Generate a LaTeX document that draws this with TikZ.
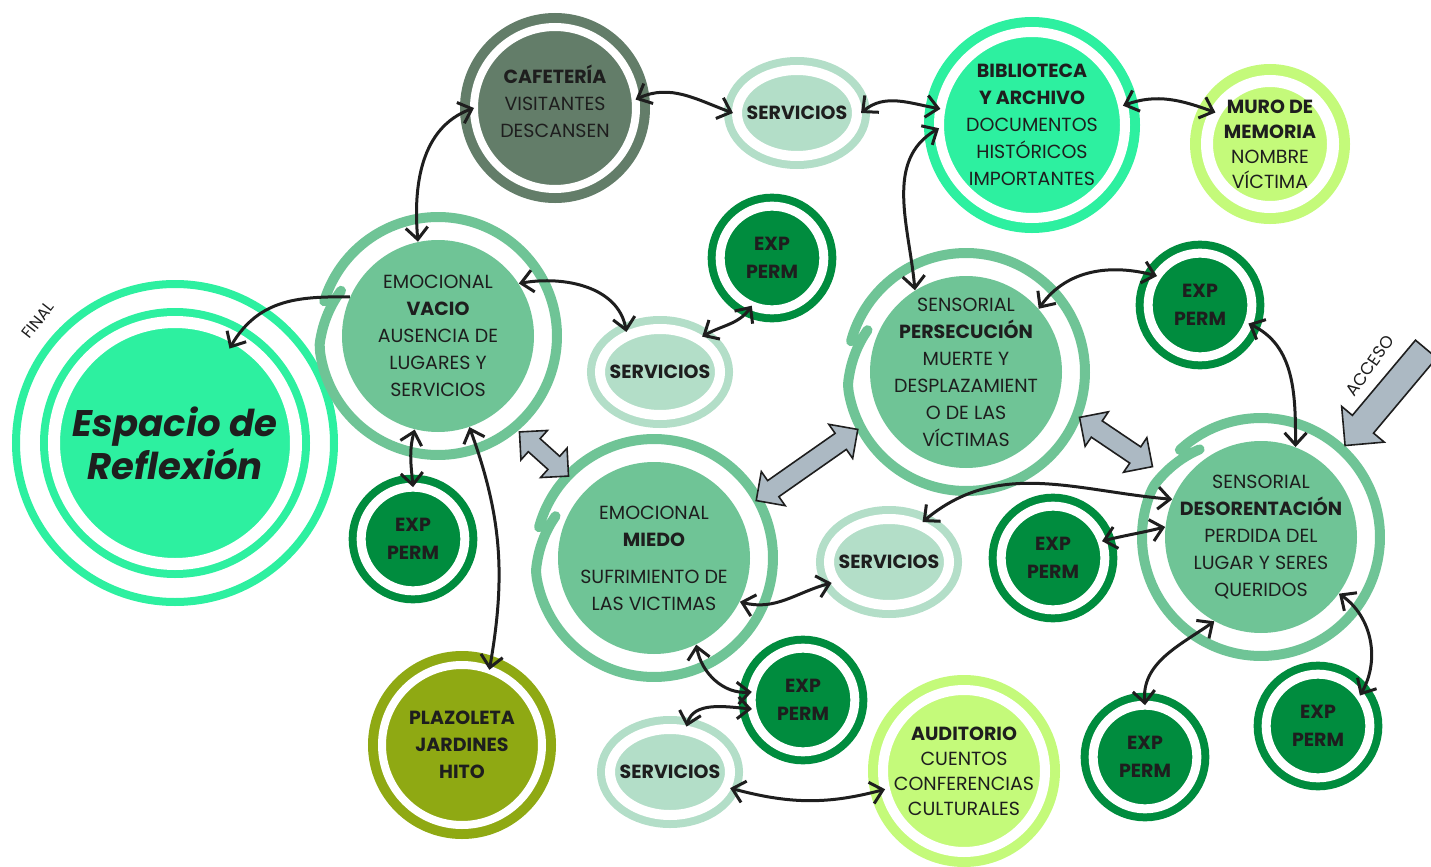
\documentclass[tikz,border=0pt]{standalone}
\usepackage{fontspec}
\setmainfont{Poppins}
\usetikzlibrary{arrows.meta,shapes.geometric,shapes.arrows}

\definecolor{mintgreen}{HTML}{2DF0A0}
\definecolor{cafegreen}{HTML}{637D69}
\definecolor{servgreen}{HTML}{B3DEC8}
\definecolor{limegreen}{HTML}{C4FA7A}
\definecolor{darkgreen}{HTML}{008C3E}
\definecolor{roomgreen}{HTML}{6FC496}
\definecolor{olivegreen}{HTML}{8FA913}
\definecolor{arrgray}{HTML}{ACB9C3}
\definecolor{ink}{HTML}{1E1E1E}

\tikzset{
  ringed/.style={circle, fill=#1, draw=#1, line width=4pt, double=white,
    double distance=4.5pt, inner sep=-30pt, outer sep=0pt, align=center,
    text=ink, font=\fontsize{9.5}{13.5}\selectfont},
  expperm/.style={ringed=darkgreen, minimum size=49.5pt,
    font=\fontsize{9.5}{14}\selectfont\bfseries},
  servicios/.style={ellipse, fill=servgreen, draw=servgreen, line width=4pt,
    double=white, double distance=5pt, minimum width=60pt, minimum height=43pt,
    inner sep=-20pt, text=ink, font=\fontsize{9.5}{12}\selectfont\bfseries},
  room/.style={circle, fill=roomgreen, minimum size=96pt, inner sep=-30pt,
    align=center, text=ink, font=\fontsize{9.5}{13.5}\selectfont},
  openring/.style={draw=roomgreen, line width=5pt, line cap=round},
  link/.style={<->, line width=1.5pt, ink},
  fat/.style={draw=ink, line width=0.8pt, fill=arrgray},
}

\begin{document}
\begin{tikzpicture}
[x=0.5pt, y=0.5pt, >={Straight Barb[length=6pt,width=11pt]}]
\useasboundingbox (0,0) rectangle (1431,-867);

% salas y servicios
\node[ringed=mintgreen, double distance=6pt, minimum size=121pt,
  font=\fontsize{18.5}{21.5}\selectfont\bfseries\itshape] (espacio) at (175,-443) {Espacio de\\Reflexión};
\node[ringed=cafegreen, line width=5pt, double distance=4pt, minimum size=81pt] (cafe) at (555,-108) {\textbf{CAFETERÍA}\\VISITANTES\\DESCANSEN\\[-6.5pt]};
\node[servicios] (servA) at (797,-113) {SERVICIOS};
\node[ringed=mintgreen, line width=5pt, double distance=5pt, minimum size=93pt] (biblio) at (1032,-125) {\textbf{BIBLIOTECA}\\\textbf{Y ARCHIVO}\\DOCUMENTOS\\HISTÓRICOS\\IMPORTANTES};
\node[ringed=limegreen, line width=5.5pt, double distance=6pt, minimum size=63pt,
  font=\fontsize{9.5}{12.5}\selectfont] (muro) at (1270,-144) {\textbf{MURO DE}\\\textbf{MEMORIA}\\NOMBRE\\VÍCTIMA};
\node[expperm] (expA) at (772,-258) {EXP\\PERM};
\node[room] (vacio) at (438,-336) {EMOCIONAL\\\textbf{VACIO}\\AUSENCIA DE\\LUGARES Y\\SERVICIOS};
\node[servicios] (servB) at (660,-372) {SERVICIOS};
\node[expperm] (expB) at (413,-539) {EXP\\PERM};
\node[room] (miedo) at (654,-558) {EMOCIONAL\\\textbf{MIEDO}\\[5pt]SUFRIMIENTO DE\\LAS VICTIMAS};
\node[room] (persec) at (966,-372) {SENSORIAL\\\textbf{PERSECUCIÓN}\\MUERTE Y\\DESPLAZAMIENT\\O DE LAS\\VÍCTIMAS};
\node[expperm] (expC) at (1200,-305) {EXP\\PERM};
\node[room] (desor) at (1261,-537) {SENSORIAL\\\textbf{DESORENTACIÓN}\\PERDIDA DEL\\LUGAR Y SERES\\QUERIDOS};
\node[expperm] (expD) at (1053,-558) {EXP\\PERM};
\node[servicios] (servC) at (889,-562) {SERVICIOS};
\node[expperm] (expE) at (803,-700) {EXP\\PERM};
\node[servicios] (servD) at (670,-772) {SERVICIOS};
\node[ringed=limegreen, line width=5pt, double distance=5pt, minimum size=81pt,
  font=\fontsize{9.5}{12.5}\selectfont] (audit) at (964,-771) {\textbf{AUDITORIO}\\CUENTOS\\CONFERENCIAS\\CULTURALES};
\node[ringed=olivegreen, line width=5pt, double distance=4pt, minimum size=80pt,
  font=\fontsize{9.5}{13.5}\selectfont\bfseries] (plaza) at (462,-745) {PLAZOLETA\\JARDINES\\HITO};
\node[expperm] (expF) at (1145,-757) {EXP\\PERM};
\node[expperm] (expG) at (1318,-726) {EXP\\PERM};

% anillos
\draw[mintgreen, line width=4pt] (espacio) circle (159);
\foreach \n/\a/\e in {vacio/155/523, miedo/157/525, persec/157/525, desor/125/493}
  \draw[openring, shift={(\n.center)}] plot[smooth, domain=\a:\e, samples=90]
    (\x:{119-12*max(0,1-(\x-\a)/30)});

% flechas grandes
\node[fat, double arrow, inner sep=4pt, double arrow head extend=5.5pt,
  minimum height=33pt, rotate=-42] (swapA) at (544,-454) {};
\node[fat, double arrow, inner sep=4.5pt, double arrow head extend=5.5pt,
  minimum height=62pt, rotate=35] (swapB) at (807,-465) {};
\node[fat, double arrow, inner sep=4.5pt, double arrow head extend=5.5pt,
  minimum height=44pt, rotate=-34] (swapC) at (1116,-442) {};
\node[fat, single arrow, inner sep=6.5pt, single arrow head extend=7pt,
  minimum height=63pt, rotate=230] (acceso) at (1390,-392) {};
\node[rotate=52, text=ink, font=\fontsize{8}{8}\selectfont] (finlbl) at (38,-320) {FINAL};
\node[rotate=55, text=ink, font=\fontsize{8.5}{8.5}\selectfont] (acclbl) at (1370,-366) {ACCESO};

% recorridos
\draw[link, ->, shorten >=-6pt] (vacio.156) to[out=180,in=60] (espacio.60);
\foreach \from/\to/\o/\i in {vacio.102/cafe.180/95/200, cafe.6/servA.180/25/160,
  servA.east/biblio.170/40/170, biblio.12/muro.150/20/160,
  biblio.182/persec.122/210/95, vacio.33/servB.130/10/100,
  servB.40/expA.247/30/235, vacio.256/expB.90/255/95,
  vacio.289/plaza.70/-70/80, persec.41/expC.146/55/165,
  expC.-21/desor.69/-25/90, desor.157/servC.50/175/40,
  desor.174/expD.19/194/14, miedo.-27/servC.200/-15/195,
  miedo.296/expE.171/-80/185, expE.190/servD.70/175/75,
  servD.-15/audit.193/-15/195, desor.241/expF.90/215/95,
  desor.-36/expG.36/-35/60}
  \draw[link] (\from) to[out=\o,in=\i] (\to);
\end{tikzpicture}
\end{document}
